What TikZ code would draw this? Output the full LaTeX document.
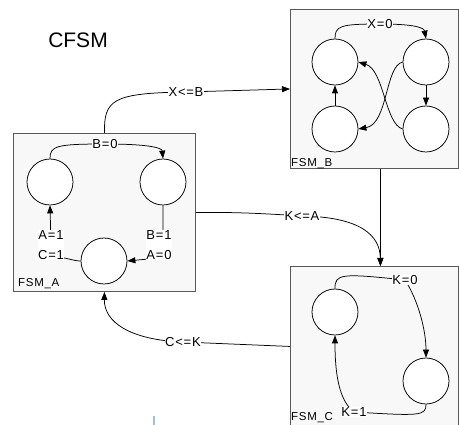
\documentclass[tikz,border=0pt]{standalone}
\usepackage{fontspec}
\setmainfont{Liberation Sans}
\newfontfamily\labfont[LetterSpace=6]{Liberation Sans}
\usetikzlibrary{arrows.meta}
\pgfdeclarelayer{bg}\pgfdeclarelayer{fg}\pgfsetlayers{bg,main,fg}
\definecolor{boxfill}{HTML}{F8F8F8}
\definecolor{cursorblue}{RGB}{160,188,232}
\begin{document}
\begin{tikzpicture}[x=1pt,y=-1pt,
 fsmbox/.style={draw=black!65,line width=0.9pt,fill=boxfill,anchor=north west,inner sep=0},
 st/.style={circle,draw=black,line width=0.75pt,fill=white,minimum size=46pt,inner sep=0},
 lab/.style={fill=white,inner sep=0.6pt,font=\labfont\fontsize{13}{13}\selectfont,align=center},
 cn/.style={line width=0.75pt,draw=black},
 arr/.style={cn,-{Triangle[length=8pt,width=6pt]}},
 tag/.style={anchor=base west,inner sep=0,font=\labfont\fontsize{11.5}{12}\selectfont}]
\useasboundingbox (0,0) rectangle (459,425);
% boxes
\begin{pgfonlayer}{bg}
\node[fsmbox,minimum width=182pt,minimum height=158pt] (A) at (13,133) {};
\node[fsmbox,minimum width=168pt,minimum height=159pt] (B) at (290,9) {};
\node[fsmbox,minimum width=168pt,minimum height=160pt] (C) at (290,266) {};
\end{pgfonlayer}
\begin{pgfonlayer}{fg}
% title
\node[font=\fontsize{21}{22}\selectfont,inner sep=0] (title) at (78,40) {CFSM};
% tags
\node[tag] (tA) at (18,287) {FSM\_A};
\node[tag] (tB) at (291,167) {FSM\_B};
\node[tag] (tC) at (291,421) {FSM\_C};
% states A
\node[st] (a1) at (50,182) {};
\node[st] (a2) at (163,182) {};
\node[st] (a3) at (104,261) {};
% states B
\node[st] (b1) at (335,62) {};
\node[st] (b2) at (426,62) {};
\node[st] (b3) at (335,129) {};
\node[st] (b4) at (426,129) {};
% states C
\node[st] (c1) at (335,312) {};
\node[st] (c2) at (426,381) {};
% labels
\node[lab] (lB0) at (105,144) {B=0};
\node[lab] (lA) at (51,245) {A=1\\[7pt]C=1};
\node[lab] (lB) at (159,245) {B=1\\[7pt]A=0};
\node[lab] (lX0) at (380,24) {X=0};
\node[lab] (lK0) at (405,280) {K=0};
\node[lab] (lK1) at (354,412) {K=1};
\node[lab] (lXB) at (186,92) {X<=B};
\node[lab] (lKA) at (302,216) {K<=A};
\node[lab] (lCK) at (183,342) {C<=K};
\end{pgfonlayer}
\coordinate (cin) at ([xshift=6pt]C.north);
\coordinate (bout) at ([xshift=6pt]B.south);
% FSM_A connectors
\draw[arr] (a1.north) .. controls (50,146) and (56,144) .. (lB0.center) .. controls (150,144) and (162,148) .. (a2.north);
\draw[arr] (a3.west) .. controls (72,261) and (68,257) .. ([yshift=-12pt]lA.center) -- (lA.center) -- (a1.south);
\draw[arr] (a2.south) -- (a2.south |- lB.center) -- ([yshift=-13pt]lB.center) -- (a3.east);
% FSM_B connectors
\draw[arr] (b1.north) .. controls (335,26) and (340,24) .. (lX0.center) .. controls (416,24) and (424,28) .. (b2.north);
\draw[arr] (b3.north) -- (b1.south);
\draw[arr] (b2.south) -- (b4.north);
\draw[arr] (b2.west) .. controls (385,66) and (388,124) .. (b3.east);
\draw[arr] (b4.west) .. controls (385,124) and (384,70) .. (b1.east);
% FSM_C connectors
\draw[arr] (c1.north) .. controls (335,274) and (340,273) .. (lK0.center) .. controls (418,300) and (426,330) .. (c2.north);
\draw[arr] (c2.south) .. controls (426,416) and (420,416) .. (lK1.center) .. controls (338,400) and (335,370) .. (c1.south);
% inter-FSM connectors
\draw[arr] (A.north) .. controls (104,100) and (112,93) .. (lXB.center) -- (B.west);
\draw[arr] (A.east) .. controls (240,212) and (270,214) .. (lKA.center) .. controls (360,217) and (380,235) .. (cin);
\draw[arr] (bout) -- (cin);
\draw[arr] (C.west) -- (lCK.center) .. controls (130,340) and (104,322) .. (A.south);
% cursor mark
\draw[cursorblue,line width=2pt] (153.5,416) -- (153.5,426);
\end{tikzpicture}
\end{document}
